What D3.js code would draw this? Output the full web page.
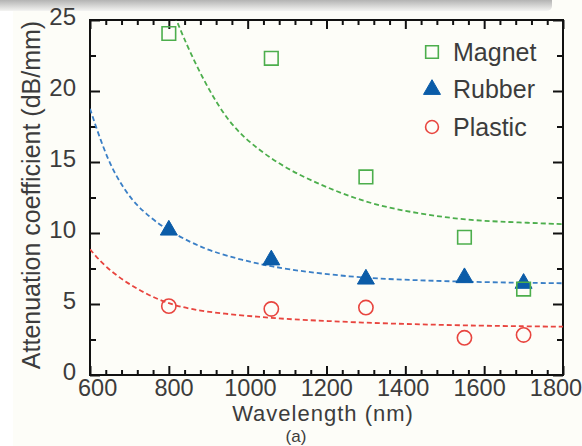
<!DOCTYPE html>
<html>
<head>
<meta charset="utf-8">
<script src="https://cdn.jsdelivr.net/npm/d3@7"></script>
<style>
  html, body { margin: 0; padding: 0; background: #fdfdf8; }
  svg { display: block; }
  text { font-family: "Liberation Sans", Arial, sans-serif; fill: #3c3c3c; }
</style>
</head>
<body>
<div id="chart"></div>
<script>
// measured points
var wavelengths = [800, 1060, 1300, 1550, 1700];
var magnet = [24.05, 22.3, 13.95, 9.7, 6.05];
var rubber = [10.2, 8.1, 6.75, 6.85, 6.45];
var plastic = [4.85, 4.65, 4.75, 2.62, 2.82];

// fitted curves
var magnetFitX = [815, 822, 854, 897, 948, 1006, 1090, 1176, 1260, 1343, 1430, 1513, 1597, 1683, 1800];
var magnetFitY = [25.3, 24.8, 22.7, 20.3, 17.95, 16.3, 14.65, 13.5, 12.55, 11.85, 11.4, 11.05, 10.85, 10.75, 10.62];
var rubberFitX = [600, 621, 646, 672, 706, 740, 790, 858, 909, 985, 1061, 1150, 1293, 1420, 1546, 1680, 1800];
var rubberFitY = [18.75, 17.0, 15.14, 13.73, 12.32, 11.39, 10.3, 9.3, 8.7, 8.1, 7.63, 7.25, 6.83, 6.68, 6.57, 6.5, 6.46];
var plasticFitX = [600, 638, 689, 740, 790, 858, 943, 1027, 1090, 1200, 1336, 1460, 1589, 1700, 1800];
var plasticFitY = [8.85, 7.63, 6.57, 5.75, 5.1, 4.6, 4.3, 4.1, 3.95, 3.8, 3.64, 3.55, 3.47, 3.43, 3.40];

var xTicks = [600, 800, 1000, 1200, 1400, 1600, 1800];
var yTicks = [0, 5, 10, 15, 20, 25];
var seriesNames = ["Magnet", "Rubber", "Plastic"];

var margin = {top: 20, right: 19, bottom: 71, left: 90};
var outerWidth = 582;
var outerHeight = 446;
var width = outerWidth - margin.left - margin.right;
var height = outerHeight - margin.top - margin.bottom;

var green = "#4cae4c";
var blue = "#0b5ca8";
var blueLine = "#3a7fc6";
var red = "#e8453f";

var svg = d3.select("#chart").append("svg")
  .attr("width", outerWidth)
  .attr("height", outerHeight);

// screenshot shadow band at the top
var defs = svg.append("defs");
var grad = defs.append("linearGradient").attr("id", "band")
  .attr("x1", 0).attr("y1", 0).attr("x2", 0).attr("y2", 1);
grad.append("stop").attr("offset", "0%").attr("stop-color", "#9c9c9c");
grad.append("stop").attr("offset", "100%").attr("stop-color", "#f4f4f2");
svg.append("rect").attr("x", -6).attr("y", -4).attr("width", 558).attr("height", 15)
  .attr("rx", 5).attr("fill", "url(#band)");
svg.append("rect").attr("x", 0).attr("y", 11).attr("width", 13).attr("height", outerHeight - 11)
  .attr("fill", "#ffffff");

defs.append("clipPath").attr("id", "plotClip")
  .append("rect").attr("width", width).attr("height", height);

var g = svg.append("g")
  .attr("transform", "translate(" + margin.left + "," + margin.top + ")");

var x = d3.scaleLinear().domain([600, 1800]).range([0, width]);
var y = d3.scaleLinear().domain([0, 25]).range([height, 0]);
// tick labels in the original sit on a slightly narrower spread than the ticks
var xLabel = d3.scaleLinear().domain([600, 1800]).range([7.6, 466]);

var minorX = d3.range(600, 1801, 40).filter(function(d) { return d % 200 !== 0; });
var minorY = d3.range(0, 25.1, 2.5).filter(function(d) { return d % 5 !== 0; });

function styleAxis(sel) {
  sel.select(".domain").remove();
  sel.selectAll("line").attr("stroke", "#111").attr("stroke-width", 2);
}

// x ticks bottom/top
g.append("g").attr("transform", "translate(0," + height + ")")
  .call(d3.axisBottom(x).tickValues(xTicks).tickSize(-9).tickFormat("")).call(styleAxis);
g.append("g").attr("transform", "translate(0," + height + ")")
  .call(d3.axisBottom(x).tickValues(minorX).tickSize(-5).tickFormat("")).call(styleAxis);
g.append("g")
  .call(d3.axisTop(x).tickValues(xTicks).tickSize(-9).tickFormat("")).call(styleAxis);
g.append("g")
  .call(d3.axisTop(x).tickValues(minorX).tickSize(-5).tickFormat("")).call(styleAxis);

// y ticks left/right
var yAxis = g.append("g")
  .call(d3.axisLeft(y).tickValues(yTicks).tickSize(-10).tickPadding(14).tickFormat(d3.format("d")));
yAxis.call(styleAxis);
yAxis.selectAll("text").attr("font-size", "24px").attr("dy", "0.2em")
  .style("font-family", "'Liberation Sans', Arial, sans-serif").attr("fill", "#3c3c3c");
g.append("g")
  .call(d3.axisLeft(y).tickValues(minorY).tickSize(-6).tickFormat("")).call(styleAxis);
g.append("g").attr("transform", "translate(" + width + ",0)")
  .call(d3.axisRight(y).tickValues(yTicks).tickSize(-10).tickFormat("")).call(styleAxis);
g.append("g").attr("transform", "translate(" + width + ",0)")
  .call(d3.axisRight(y).tickValues(minorY).tickSize(-6).tickFormat("")).call(styleAxis);

// x tick labels
g.selectAll(".xlab").data(xTicks).enter().append("text")
  .attr("class", "xlab")
  .attr("x", function(d) { return xLabel(d); })
  .attr("y", height + 21)
  .attr("text-anchor", "middle")
  .attr("font-size", "23.5px")
  .text(function(d) { return d; });

// frame
g.append("rect").attr("width", width).attr("height", height)
  .attr("fill", "none").attr("stroke", "#111").attr("stroke-width", 2);

// fitted dashed curves
var line = d3.line()
  .x(function(d) { return x(d[0]); })
  .y(function(d) { return y(d[1]); })
  .curve(d3.curveBasis);

var fits = [
  {xs: magnetFitX, ys: magnetFitY, color: green},
  {xs: rubberFitX, ys: rubberFitY, color: blueLine},
  {xs: plasticFitX, ys: plasticFitY, color: red}
];
var curves = g.append("g").attr("clip-path", "url(#plotClip)");
fits.forEach(function(f) {
  curves.append("path")
    .datum(d3.zip(f.xs, f.ys))
    .attr("d", line)
    .attr("fill", "none")
    .attr("stroke", f.color)
    .attr("stroke-width", 1.8)
    .attr("stroke-dasharray", "5,3");
});

// markers
var sym = {
  Magnet: d3.symbol().type(d3.symbolSquare).size(185),
  Rubber: d3.symbol().type(d3.symbolTriangle).size(125),
  Plastic: d3.symbol().type(d3.symbolCircle).size(160)
};
function markerStyle(sel, name) {
  if (name === "Magnet") sel.attr("fill", "none").attr("stroke", green).attr("stroke-width", 1.6);
  else if (name === "Rubber") sel.attr("fill", blue).attr("stroke", blue).attr("stroke-width", 1);
  else sel.attr("fill", "none").attr("stroke", red).attr("stroke-width", 1.6);
}

var seriesValues = {Magnet: magnet, Rubber: rubber, Plastic: plastic};
["Rubber", "Plastic", "Magnet"].forEach(function(name) {
  g.selectAll(".pt-" + name).data(d3.zip(wavelengths, seriesValues[name])).enter()
    .append("path")
    .attr("class", "pt-" + name)
    .attr("transform", function(d) { return "translate(" + x(d[0]) + "," + y(d[1]) + ")"; })
    .attr("d", sym[name])
    .call(markerStyle, name);
});

// legend
var legend = g.append("g").attr("transform", "translate(" + (432 - margin.left) + "," + (52 - margin.top) + ")");
var legendSym = {
  Magnet: d3.symbol().type(d3.symbolSquare).size(160),
  Rubber: d3.symbol().type(d3.symbolTriangle).size(125),
  Plastic: d3.symbol().type(d3.symbolCircle).size(130)
};
seriesNames.forEach(function(name, i) {
  var row = legend.append("g").attr("transform", "translate(0," + (i * 37.5) + ")");
  row.append("path").attr("d", legendSym[name]).call(markerStyle, name);
  row.append("text").attr("x", 21).attr("y", 8.5)
    .attr("font-size", "25px").text(name);
});

// axis titles
svg.append("text")
  .attr("transform", "translate(40," + 195 + ") rotate(-90)")
  .attr("text-anchor", "middle")
  .attr("font-size", "25px")
  .text("Attenuation coefficient (dB/mm)");

svg.append("text")
  .attr("x", 323).attr("y", 421)
  .attr("text-anchor", "middle")
  .attr("font-size", "22px")
  .attr("letter-spacing", "1px")
  .text("Wavelength (nm)");

svg.append("text")
  .attr("x", 296).attr("y", 442)
  .attr("text-anchor", "middle")
  .attr("font-size", "17px")
  .text("(a)");
</script>
</body>
</html>
